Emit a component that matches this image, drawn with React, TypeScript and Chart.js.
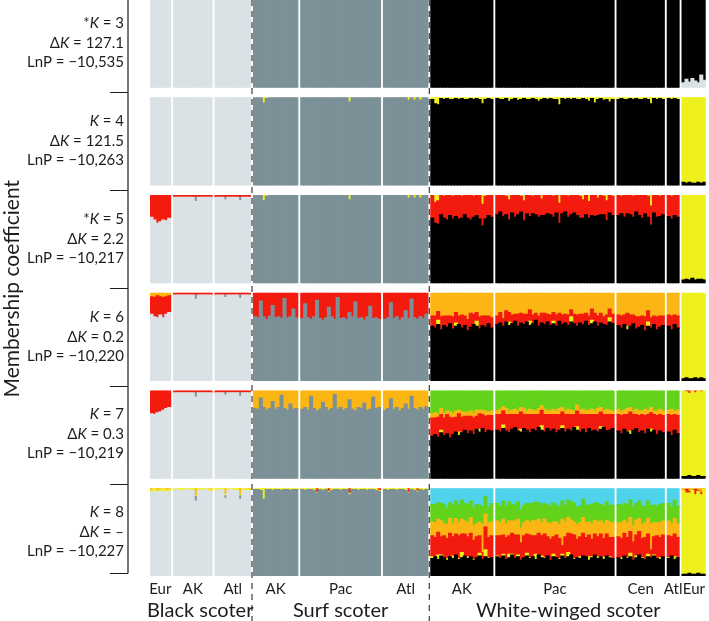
import React, { useEffect, useRef } from 'react';
import { Chart, registerables } from 'chart.js';

Chart.register(...registerables);

// ---------------- data ----------------
const SPECIES = ['Black scoter', 'Surf scoter', 'White-winged scoter'];
const POP_LABELS = ['Eur', 'AK', 'Atl', 'AK', 'Pac', 'Atl', 'AK', 'Pac', 'Cen', 'Atl', 'Eur'];
const POP_SPECIES = [0, 0, 0, 1, 1, 1, 2, 2, 2, 2, 2];
const POP_SIZES = [7, 13, 12, 15, 27, 15, 21, 40, 16, 4, 8];

const K_VALUES = [3, 4, 5, 6, 7, 8];
const K_STAR = [true, false, true, false, false, false];
const DELTA_K = ['127.1', '121.5', '2.2', '0.2', '0.3', '–'];
const LNP = ['−10,535', '−10,263', '−10,217', '−10,220', '−10,219', '−10,227'];

// cluster colours: 0 light grey, 1 grey, 2 black, 3 yellow, 4 red, 5 orange, 6 green, 7 cyan
const CLUSTER_COLORS = ['#dae2e6', '#7b9197', '#000000', '#eef01d', '#f31b0e', '#fbb614', '#62d31a', '#4fd3ea'];

// stacking order (bottom -> top) for each K
const ORDER_K3 = [0, 1, 2];
const ORDER_K4 = [0, 1, 2, 3];
const ORDER_K5 = [0, 1, 2, 4, 3];
const ORDER_K6 = [0, 1, 2, 3, 4, 5];
const ORDER_K7 = [0, 1, 2, 3, 4, 5, 6];
const ORDER_K8 = [0, 1, 2, 3, 4, 5, 6, 7];

// cluster taking the remaining membership in each population
const REST_K3 = [0, 0, 0, 1, 1, 1, 2, 2, 2, 2, 2];
const REST_K4 = [0, 0, 0, 1, 1, 1, 2, 2, 2, 2, 3];
const REST_K5 = [0, 0, 0, 1, 1, 1, 2, 2, 2, 2, 3];
const REST_K6 = [0, 0, 0, 1, 1, 1, 5, 5, 5, 5, 3];
const REST_K7 = [0, 0, 0, 1, 1, 1, 6, 6, 6, 6, 3];
const REST_K8 = [0, 0, 0, 1, 1, 1, 7, 7, 7, 7, 3];

// population groups
const BS_ALL = [0, 1, 2];
const BS_AK_ATL = [1, 2];
const BS_EUR = [0];
const SS_ALL = [3, 4, 5];
const WW_MAIN = [6, 7, 8, 9]; // AK, Pac, Cen, Atl
const WW_EUR = [10];

// membership values (%) per individual
const K3_WWEUR_LG = [5, 9, 6, 10, 7, 5, 14, 8];

const SS_YE_TICKS = [
  0, 0, 0, 6, 1, 0, 0, 0, 0, 0, 0, 0, 0, 0, 0,
  0, 0, 0, 0, 0, 0, 0, 0, 0, 0, 0, 0, 0, 0, 0, 0, 5, 0, 0, 0, 0, 0, 0, 0, 0, 0, 0,
  0, 0, 0, 0, 0, 0, 0, 0, 3, 0, 3, 0, 3, 0, 0,
];
const BS_TOP_LINE = [2];
const BS_GR_TICKS = [
  0, 0, 0, 0, 0, 0, 0, 5, 0, 0, 0, 0, 0,
  0, 0, 0, 3, 0, 0, 0, 0, 4, 0, 0, 0,
];

const K4_WW_YE = [
  2, 7, 8, 1, 2, 1, 2, 2, 1, 2, 1, 2, 2, 1, 2, 1, 2, 7, 2, 1, 2,
  1, 2, 2, 1, 4, 2, 1, 3, 2, 1, 2, 2, 1, 2, 4, 2, 1, 2, 1, 2, 2, 8, 1, 2, 1, 2, 1, 2, 2, 1, 2, 4, 1, 6, 2, 1, 3, 2, 5, 2,
  2, 1, 2, 2, 1, 2, 1, 2, 2, 1, 2, 7, 1, 2, 1, 2,
  1, 2, 1, 2,
];
const K4_WWEUR_BK = [3, 2, 3, 2, 2, 3, 2, 3];

const K5_BSEUR_RD = [25, 28, 32, 30, 28, 29, 26];
const K5_WW_RD = [
  26, 24, 27, 22, 25, 28, 23, 26, 24, 27, 25, 22, 26, 28, 24, 23, 27, 25, 26, 23, 25,
  22, 19, 24, 21, 23, 20, 25, 22, 18, 23, 21, 24, 20, 22, 25, 19, 23, 21, 22, 24, 20, 23, 21, 19, 24, 22, 20, 23, 25, 21, 22, 19, 23, 24, 20, 22, 21, 23, 20, 22,
  23, 20, 25, 21, 22, 24, 19, 23, 26, 21, 24, 22, 20, 25, 23, 22,
  24, 26, 23, 25,
];
const K5_WW_YE = [
  0, 8, 6, 0, 1, 0, 0, 1, 0, 0, 1, 0, 0, 0, 1, 0, 0, 10, 1, 0, 0,
  0, 0, 0, 1, 5, 0, 0, 0, 1, 6, 0, 0, 1, 0, 0, 4, 0, 0, 0, 1, 0, 9, 0, 0, 1, 0, 0, 0, 1, 5, 0, 7, 0, 0, 3, 0, 1, 6, 0, 1,
  0, 1, 0, 0, 0, 1, 0, 0, 0, 0, 1, 12, 0, 0, 1, 0,
  0, 1, 0, 0,
];
const K5_WWEUR_BK = [3, 4, 3, 5, 3, 4, 4, 3];

const K6_BSEUR_RD = [20, 22, 25, 21, 23, 20, 19];
const K6_BSEUR_OR = [4, 5, 3, 4, 5, 4, 3];
const K6_SS_RD = [
  27, 28, 9, 27, 30, 26, 14, 28, 27, 29, 6, 28, 27, 18, 28,
  29, 12, 28, 30, 27, 8, 29, 31, 28, 16, 27, 30, 5, 29, 28, 30, 22, 27, 10, 29, 28, 31, 27, 15, 29, 28, 30,
  30, 28, 11, 29, 27, 31, 28, 20, 29, 7, 28, 30, 27, 29, 24,
];
const K6_WW_BK = [
  62, 60, 64, 58, 63, 61, 65, 59, 62, 64, 60, 63, 57, 61, 64, 62, 59, 63, 61, 65, 60,
  64, 66, 62, 67, 63, 65, 68, 62, 66, 64, 67, 63, 65, 69, 62, 66, 64, 67, 63, 65, 62, 68, 64, 66, 63, 67, 65, 62, 66, 64, 68, 63, 65, 67, 62, 66, 64, 63, 67, 65,
  63, 60, 64, 58, 62, 65, 59, 61, 63, 57, 62, 60, 64, 58, 61, 63,
  62, 58, 64, 60,
];
const K6_WW_YE = [
  0, 0, 5, 0, 0, 0, 0, 0, 4, 0, 0, 0, 0, 0, 0, 6, 0, 0, 0, 0, 0,
  0, 0, 0, 0, 4, 0, 0, 0, 0, 0, 0, 5, 0, 0, 0, 0, 0, 0, 0, 3, 0, 0, 0, 0, 0, 6, 0, 0, 0, 0, 0, 0, 4, 0, 0, 0, 0, 0, 5, 0,
  0, 0, 0, 4, 0, 0, 0, 0, 0, 0, 5, 0, 0, 0, 0, 0,
  0, 0, 0, 0,
];
const K6_WW_RD = [
  12, 14, 10, 15, 11, 13, 9, 14, 12, 10, 15, 11, 13, 16, 12, 10, 14, 11, 13, 9, 12,
  10, 12, 9, 13, 11, 10, 8, 14, 11, 12, 9, 13, 10, 8, 12, 11, 13, 9, 12, 10, 13, 9, 11, 10, 12, 8, 11, 13, 10, 12, 9, 11, 13, 10, 12, 11, 9, 12, 10, 11,
  12, 14, 11, 15, 13, 10, 14, 12, 11, 16, 13, 12, 10, 15, 13, 11,
  13, 16, 11, 14,
];
const K6_WWEUR_BK = [2, 3, 2, 2, 3, 2, 3, 2];

const K7_BSEUR_RD = [26, 27, 25, 24, 22, 20, 19];
const K7_SS_OR = [
  20, 21, 8, 19, 22, 20, 12, 21, 19, 5, 20, 22, 15, 21, 20,
  21, 19, 22, 6, 20, 23, 21, 13, 19, 22, 20, 4, 21, 19, 22, 20, 10, 21, 23, 19, 20, 14, 22, 21, 7, 20, 19,
  22, 20, 9, 21, 19, 23, 20, 15, 21, 6, 20, 22, 19, 21, 18,
];
const K7_WW_BK = [
  48, 50, 47, 52, 49, 51, 46, 50, 53, 49, 52, 55, 51, 54, 50, 56, 53, 57, 52, 55, 54,
  55, 53, 57, 54, 52, 56, 58, 54, 53, 57, 55, 52, 56, 54, 58, 55, 53, 57, 54, 56, 52, 55, 57, 53, 56, 54, 58, 55, 53, 56, 52, 57, 54, 55, 53, 56, 58, 54, 55, 57,
  54, 51, 56, 53, 50, 55, 57, 52, 54, 51, 56, 53, 55, 50, 54, 52,
  53, 49, 55, 51,
];
const K7_WW_YE = [
  0, 0, 0, 3, 0, 0, 0, 0, 0, 4, 0, 0, 0, 0, 0, 0, 3, 0, 0, 0, 0,
  0, 0, 4, 0, 0, 0, 0, 0, 3, 0, 0, 0, 0, 0, 0, 5, 0, 0, 0, 0, 0, 0, 3, 0, 0, 0, 0, 4, 0, 0, 0, 0, 0, 0, 0, 3, 0, 0, 0, 0,
  0, 0, 0, 0, 4, 0, 0, 0, 0, 0, 0, 3, 0, 0, 0, 0,
  0, 0, 0, 0,
];
const K7_WW_RD = [
  21, 19, 23, 18, 20, 22, 24, 19, 17, 21, 18, 16, 20, 17, 19, 15, 18, 16, 19, 17, 18,
  18, 20, 16, 19, 21, 17, 15, 19, 20, 16, 18, 21, 17, 19, 15, 18, 20, 16, 19, 17, 21, 18, 16, 20, 17, 19, 15, 18, 20, 17, 21, 16, 19, 18, 20, 17, 15, 19, 18, 16,
  19, 21, 17, 20, 22, 18, 16, 20, 19, 21, 17, 19, 18, 22, 19, 20,
  20, 23, 18, 21,
];
const K7_WW_OR = [
  5, 6, 4, 7, 5, 4, 6, 5, 7, 4, 6, 5, 4, 6, 5, 7, 4, 5, 6, 4, 5,
  4, 6, 5, 7, 4, 5, 6, 4, 5, 7, 4, 6, 5, 4, 7, 5, 6, 4, 5, 6, 4, 7, 5, 4, 6, 5, 4, 7, 5, 6, 4, 5, 6, 4, 7, 5, 4, 6, 5, 4,
  6, 4, 5, 7, 5, 4, 6, 5, 4, 7, 5, 6, 4, 5, 6, 5,
  5, 7, 4, 6,
];
const K7_WWEUR_BK = [2, 2, 3, 2, 2, 3, 2, 2];
const K7_WWEUR_RD = [0, 1, 3, 0, 2, 0, 1, 0];

const K8_BS_YE = [
  2, 3, 1, 2, 3, 2, 2,
  2, 1, 2, 2, 1, 2, 2, 1, 2, 2, 1, 2, 2,
  2, 2, 1, 2, 2, 1, 2, 2, 1, 2, 2, 1,
];
const K8_BS_OR = [
  2, 0, 3, 1, 0, 2, 1,
  0, 0, 0, 0, 0, 0, 0, 8, 0, 0, 0, 0, 1,
  0, 0, 0, 6, 0, 0, 0, 0, 7, 0, 0, 1,
];
const K8_SS_YE = [
  1, 1, 2, 12, 1, 1, 2, 1, 1, 2, 1, 1, 2, 1, 1,
  1, 2, 1, 1, 2, 1, 1, 2, 1, 1, 2, 1, 1, 2, 1, 1, 2, 1, 1, 2, 1, 1, 2, 1, 1, 2, 1,
  1, 2, 1, 1, 2, 1, 1, 2, 1, 1, 2, 1, 1, 2, 1,
];
const K8_SS_RD = [
  0, 0, 0, 0, 0, 0, 0, 0, 0, 0, 0, 0, 0, 0, 0,
  0, 0, 0, 0, 0, 4, 0, 0, 0, 3, 0, 0, 0, 0, 0, 0, 5, 0, 0, 0, 0, 0, 0, 0, 0, 0, 2,
  0, 0, 0, 0, 0, 0, 0, 0, 4, 0, 0, 3, 0, 0, 0,
];
const K8_WW_BK = [
  20, 22, 19, 23, 21, 18, 22, 20, 24, 19, 21, 23, 20, 22, 18, 21, 23, 19, 22, 20, 21,
  22, 20, 23, 19, 21, 24, 20, 22, 18, 21, 23, 20, 22, 19, 24, 21, 20, 23, 18, 22, 21, 19, 23, 20, 22, 24, 19, 21, 20, 23, 22, 18, 21, 24, 20, 22, 19, 23, 21, 20,
  21, 19, 23, 20, 22, 18, 21, 24, 20, 19, 22, 21, 23, 20, 19, 22,
  20, 23, 19, 21,
];
const K8_WW_YE = [
  2, 0, 5, 1, 0, 2, 0, 3, 0, 1, 6, 0, 2, 0, 1, 0, 3, 0, 8, 1, 0,
  1, 0, 2, 0, 4, 1, 0, 2, 0, 0, 3, 1, 0, 6, 0, 2, 1, 0, 0, 3, 0, 1, 2, 0, 5, 0, 1, 0, 2, 0, 0, 4, 1, 0, 2, 0, 3, 0, 1, 0,
  0, 2, 0, 1, 4, 0, 2, 0, 1, 0, 3, 0, 1, 0, 2, 0,
  1, 0, 3, 0,
];
const K8_WW_RD = [
  24, 22, 26, 21, 25, 23, 27, 22, 24, 26, 21, 25, 23, 27, 22, 24, 20, 8, 26, 23, 25,
  23, 26, 22, 25, 21, 24, 27, 23, 20, 25, 22, 26, 24, 21, 25, 23, 27, 22, 24, 20, 26, 23, 10, 25, 22, 24, 27, 21, 23, 26, 22, 25, 20, 24, 23, 26, 21, 25, 22, 24,
  24, 22, 26, 23, 25, 21, 24, 27, 22, 25, 23, 9, 21, 26, 23, 25,
  25, 22, 26, 23,
];
const K8_WW_OR = [
  16, 17, 15, 18, 14, 16, 17, 15, 18, 16, 17, 15, 16, 18, 17, 15, 16, 32, 15, 17, 16,
  17, 15, 18, 16, 17, 14, 16, 18, 17, 15, 16, 14, 17, 18, 16, 15, 17, 16, 18, 17, 15, 16, 30, 17, 18, 16, 15, 17, 16, 18, 17, 15, 18, 16, 17, 15, 17, 16, 18, 17,
  16, 18, 15, 17, 16, 18, 17, 15, 16, 17, 18, 30, 16, 15, 17, 16,
  17, 15, 18, 16,
];
const K8_WW_GN = [
  20, 21, 19, 20, 22, 19, 18, 21, 20, 19, 22, 20, 21, 19, 20, 22, 19, 21, 20, 18, 21,
  20, 19, 21, 20, 22, 19, 18, 20, 21, 20, 19, 22, 20, 21, 19, 20, 18, 21, 20, 22, 19, 20, 21, 19, 20, 21, 22, 20, 19, 21, 20, 19, 22, 20, 21, 19, 20, 21, 19, 20,
  21, 20, 19, 21, 20, 22, 19, 20, 21, 19, 20, 21, 20, 19, 21, 20,
  20, 19, 21, 20,
];
const K8_WWEUR_BK = [2, 2, 3, 2, 2, 3, 2, 2];
const K8_WWEUR_RD = [0, 4, 2, 0, 6, 1, 3, 0];
const K8_WWEUR_OR = [2, 1, 3, 2, 1, 2, 4, 1];

// ---------------- tables built from the arrays ----------------
type Part = [number[], number, number[]];
const PANEL_ORDER = [ORDER_K3, ORDER_K4, ORDER_K5, ORDER_K6, ORDER_K7, ORDER_K8];
const PANEL_REST = [REST_K3, REST_K4, REST_K5, REST_K6, REST_K7, REST_K8];
const PANEL_PARTS: Part[][] = [
  [[WW_EUR, 0, K3_WWEUR_LG]],
  [[SS_ALL, 3, SS_YE_TICKS], [WW_MAIN, 3, K4_WW_YE], [WW_EUR, 2, K4_WWEUR_BK]],
  [
    [BS_EUR, 4, K5_BSEUR_RD], [BS_AK_ATL, 4, BS_TOP_LINE], [BS_AK_ATL, 1, BS_GR_TICKS],
    [SS_ALL, 3, SS_YE_TICKS], [WW_MAIN, 4, K5_WW_RD], [WW_MAIN, 3, K5_WW_YE], [WW_EUR, 2, K5_WWEUR_BK],
  ],
  [
    [BS_EUR, 4, K6_BSEUR_RD], [BS_EUR, 5, K6_BSEUR_OR], [BS_AK_ATL, 4, BS_TOP_LINE], [BS_AK_ATL, 1, BS_GR_TICKS],
    [SS_ALL, 4, K6_SS_RD], [WW_MAIN, 2, K6_WW_BK], [WW_MAIN, 3, K6_WW_YE], [WW_MAIN, 4, K6_WW_RD],
    [WW_EUR, 2, K6_WWEUR_BK],
  ],
  [
    [BS_EUR, 4, K7_BSEUR_RD], [BS_AK_ATL, 4, BS_TOP_LINE], [BS_AK_ATL, 1, BS_GR_TICKS],
    [SS_ALL, 5, K7_SS_OR], [WW_MAIN, 2, K7_WW_BK], [WW_MAIN, 3, K7_WW_YE], [WW_MAIN, 4, K7_WW_RD],
    [WW_MAIN, 5, K7_WW_OR], [WW_EUR, 2, K7_WWEUR_BK], [WW_EUR, 4, K7_WWEUR_RD],
  ],
  [
    [BS_ALL, 3, K8_BS_YE], [BS_ALL, 5, K8_BS_OR], [BS_AK_ATL, 1, BS_GR_TICKS],
    [SS_ALL, 3, K8_SS_YE], [SS_ALL, 4, K8_SS_RD],
    [WW_MAIN, 2, K8_WW_BK], [WW_MAIN, 3, K8_WW_YE], [WW_MAIN, 4, K8_WW_RD], [WW_MAIN, 5, K8_WW_OR],
    [WW_MAIN, 6, K8_WW_GN], [WW_EUR, 2, K8_WWEUR_BK], [WW_EUR, 4, K8_WWEUR_RD], [WW_EUR, 5, K8_WWEUR_OR],
  ],
];

const GAP = 1.0; // blank space between populations, in individual widths
const PITCH = 1.121; // panel height + gap, in panel heights
const Y_MAX = PITCH * (K_VALUES.length - 1) + 1;

const XS: number[][] = [];
(() => {
  let x = 0;
  POP_SIZES.forEach((n, p) => {
    if (p > 0) x += GAP;
    const row: number[] = [];
    for (let i = 0; i < n; i++) { row.push(x); x += 1; }
    XS.push(row);
  });
})();
const X_MIN = -0.5;
const X_MAX = XS[XS.length - 1][XS[XS.length - 1].length - 1] + 0.5;
const POP_CENTERS = XS.map(r => (r[0] + r[r.length - 1]) / 2);

function buildDatasets() {
  const datasets: any[] = [];
  K_VALUES.forEach((_, k) => {
    const memb: number[][][] = POP_SIZES.map(n => Array.from({ length: n }, () => new Array(8).fill(0)));
    PANEL_PARTS[k].forEach(([pops, c, vals]) => {
      let off = 0;
      pops.forEach(p => {
        for (let i = 0; i < POP_SIZES[p]; i++) memb[p][i][c] = vals.length === 1 ? vals[0] : vals[off + i];
        off += POP_SIZES[p];
      });
    });
    memb.forEach((inds, p) => {
      const rest = PANEL_REST[k][p];
      inds.forEach(m => {
        let s = 0;
        m.forEach((v, c) => { if (c !== rest) s += v; });
        m[rest] = Math.max(0, 100 - s);
      });
    });
    const order = PANEL_ORDER[k];
    const base = k * PITCH + 1;
    order.forEach((c, oi) => {
      const data: any[] = [];
      memb.forEach((inds, p) => {
        inds.forEach((m, i) => {
          if (m[c] <= 0) return;
          let below = 0;
          for (let j = 0; j < oi; j++) below += m[order[j]];
          const total = order.reduce((a, cc) => a + m[cc], 0);
          const lo = below / total;
          const hi = (below + m[c]) / total;
          data.push({ x: XS[p][i], y: [base - hi, base - lo] });
        });
      });
      datasets.push({
        label: `K${K_VALUES[k]}-${c}`,
        data,
        backgroundColor: CLUSTER_COLORS[c],
        borderWidth: 0,
        grouped: false,
        barPercentage: 1,
        categoryPercentage: 1,
        inflateAmount: 0.55,
      });
    });
  });
  return datasets;
}

const FONT = 'Lato, "Noto Sans", "DejaVu Sans", sans-serif';
const TEXT_COLOR = '#1e1c1d';

function drawRich(ctx: CanvasRenderingContext2D, segs: [string, boolean][], right: number, y: number, size: number) {
  const fN = `${size}px ${FONT}`;
  const fI = `italic ${size}px ${FONT}`;
  const widths = segs.map(([t, it]) => { ctx.font = it ? fI : fN; return ctx.measureText(t).width; });
  let x = right - widths.reduce((a, b) => a + b, 0);
  segs.forEach(([t, it], j) => { ctx.font = it ? fI : fN; ctx.fillText(t, x, y); x += widths[j]; });
}

const decorPlugin = {
  id: 'decor',
  afterDraw(chart: any) {
    const { ctx, chartArea, scales } = chart;
    const xs = scales.x, ys = scales.y;
    ctx.save();
    // dashed species separators
    ctx.strokeStyle = '#4a4a4a';
    ctx.lineWidth = 1.3;
    ctx.setLineDash([6, 5]);
    for (let p = 1; p < POP_SIZES.length; p++) {
      if (POP_SPECIES[p] !== POP_SPECIES[p - 1]) {
        const prev = XS[p - 1][XS[p - 1].length - 1];
        const px = xs.getPixelForValue((prev + XS[p][0]) / 2);
        ctx.beginPath();
        ctx.moveTo(px, 0);
        ctx.lineTo(px, chart.height);
        ctx.stroke();
      }
    }
    ctx.setLineDash([]);
    // left bracket axis
    const axX = chartArea.left - 22;
    const tickX = chartArea.left - 40;
    const tickVals: number[] = [];
    for (let k = 0; k < K_VALUES.length - 1; k++) tickVals.push(k * PITCH + 1 + (PITCH - 1) / 2);
    tickVals.push(Y_MAX - 0.035);
    const bottomY = Math.round(ys.getPixelForValue(Y_MAX - 0.035)) + 0.5;
    ctx.strokeStyle = TEXT_COLOR;
    ctx.lineWidth = 1.2;
    ctx.beginPath();
    ctx.moveTo(axX, 0);
    ctx.lineTo(axX, bottomY);
    tickVals.forEach(v => {
      const py = Math.round(ys.getPixelForValue(v)) + 0.5;
      ctx.moveTo(tickX, py);
      ctx.lineTo(axX, py);
    });
    ctx.stroke();
    // panel labels
    ctx.fillStyle = TEXT_COLOR;
    ctx.textBaseline = 'middle';
    ctx.textAlign = 'left';
    const right = chartArea.left - 26;
    K_VALUES.forEach((K, k) => {
      const yc = ys.getPixelForValue(k * PITCH + 0.5);
      const l1: [string, boolean][] = [];
      if (K_STAR[k]) l1.push(['*', false]);
      l1.push(['K', true], [` = ${K}`, false]);
      drawRich(ctx, l1, right, yc - 20, 15);
      drawRich(ctx, [['Δ', false], ['K', true], [` = ${DELTA_K[k]}`, false]], right, yc, 15);
      drawRich(ctx, [[`LnP = ${LNP[k]}`, false]], right, yc + 19, 15);
    });
    // axis title
    ctx.save();
    ctx.translate(19, (0 + bottomY) / 2 + 2);
    ctx.rotate(-Math.PI / 2);
    ctx.textAlign = 'center';
    ctx.textBaseline = 'alphabetic';
    ctx.font = `21px ${FONT}`;
    ctx.fillText('Membership coefficient', 0, 0);
    ctx.restore();
    // species labels
    ctx.textAlign = 'center';
    ctx.textBaseline = 'alphabetic';
    ctx.font = `20px ${FONT}`;
    SPECIES.forEach((name, s) => {
      const pops = POP_SPECIES.map((sp, p) => (sp === s ? p : -1)).filter(p => p >= 0);
      const a = XS[pops[0]][0];
      const lastPop = XS[pops[pops.length - 1]];
      const b = lastPop[lastPop.length - 1];
      const cx = (xs.getPixelForValue(a) + xs.getPixelForValue(b)) / 2;
      ctx.fillText(name, cx, chartArea.bottom + 41);
    });
    ctx.restore();
  },
};

export default function App() {
  const ref = useRef<HTMLCanvasElement>(null);
  useEffect(() => {
    const chart = new Chart(ref.current as HTMLCanvasElement, {
      type: 'bar',
      data: { datasets: buildDatasets() },
      options: {
        animation: false,
        responsive: false,
        events: [],
        layout: { padding: { left: 150, right: 2, top: 0, bottom: 0 } },
        plugins: { legend: { display: false }, tooltip: { enabled: false } },
        scales: {
          x: {
            type: 'linear',
            min: X_MIN,
            max: X_MAX,
            offset: false,
            grid: { display: false, drawTicks: false },
            border: { display: false },
            afterBuildTicks: (s: any) => { s.ticks = POP_CENTERS.map(v => ({ value: v })); },
            afterFit: (s: any) => { s.height = 45; },
            ticks: {
              autoSkip: false,
              maxRotation: 0,
              minRotation: 0,
              padding: 4,
              color: TEXT_COLOR,
              font: { family: FONT, size: 15 },
              callback: (_v: any, i: number) => POP_LABELS[i],
            },
          },
          y: { type: 'linear', reverse: true, min: 0, max: Y_MAX, display: false },
        },
      } as any,
      plugins: [decorPlugin],
    });
    return () => chart.destroy();
  }, []);
  return (
    <div style={{ position: 'absolute', left: 0, top: 0, width: 709, height: 621, background: '#fff' }}>
      <canvas ref={ref} width={709} height={621} style={{ display: 'block', width: 709, height: 621 }} />
    </div>
  );
}
